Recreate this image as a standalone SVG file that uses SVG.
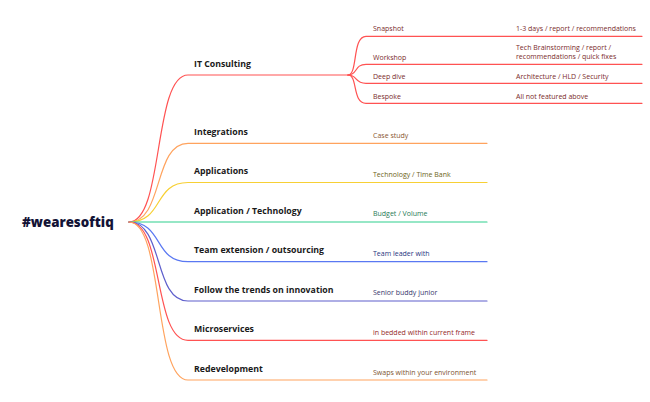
<svg xmlns="http://www.w3.org/2000/svg" width="650" height="402" viewBox="0 0 650 402">
<style>
  .c { fill: none; stroke-width: 1.2; stroke-linecap: round; }
  .t { font-family: "Open Sans", "Liberation Sans", sans-serif; font-weight: 700; font-size: 8.75px; fill: #1a1a1a; }
  .s { font-family: "Open Sans", "Liberation Sans", sans-serif; font-weight: 400; font-size: 7px; }
  .root { font-family: "Open Sans", "Liberation Sans", sans-serif; font-weight: 800; font-size: 13.3px; fill: #131336; }
  .red { stroke: #ff5252; }
  .org { stroke: #ffa35e; }
  .yel { stroke: #f7d035; }
  .grn { stroke: #2ecf8e; }
  .blu { stroke: #5a78f2; }
  .pur { stroke: #5e5fcc; }
</style>
<g id="connectors">
  <path class="c red" d="M129,222 C164,222 153,75 188,75 L348,75"/>
  <path class="c org" d="M129,222 C164,222 153,143.3 188,143.3 L487,143.3"/>
  <path class="c yel" d="M129,222 C164,222 153,182.5 188,182.5 L487,182.5"/>
  <path class="c grn" d="M129,222 L487,222"/>
  <path class="c blu" d="M129,222 C164,222 153,261.7 188,261.7 L487,261.7"/>
  <path class="c pur" d="M129,222 C164,222 153,301 188,301 L487,301"/>
  <path class="c red" d="M129,222 C164,222 153,340.4 188,340.4 L487,340.4"/>
  <path class="c org" d="M129,222 C164,222 153,380 188,380 L487,380"/>
  <path class="c red" d="M348,75 C358,75 352,36.3 366,36.3 L642,36.3"/>
  <path class="c red" d="M348,75 C358,75 354,64.3 366,64.3 L642,64.3"/>
  <path class="c red" d="M348,75 C358,75 354,83.3 366,83.3 L642,83.3"/>
  <path class="c red" d="M348,75 C358,75 352,103.3 366,103.3 L642,103.3"/>
</g>
<g id="root"><text class="root" x="22" y="227">#wearesoftiq</text></g>
<g id="n-it"><text class="t" x="194" y="67">IT Consulting</text></g>
<g id="n-it-snapshot"><text class="s" x="373" y="31" fill="#7a2b2b">Snapshot</text><text class="s" x="516" y="31" fill="#7a2b2b">1-3 days / report / recommendations</text></g>
<g id="n-it-workshop"><text class="s" x="373" y="59.5" fill="#7a2b2b">Workshop</text><text class="s" x="516" y="50" fill="#7a2b2b">Tech Brainstorming / report /</text><text class="s" x="516" y="59" fill="#7a2b2b">recommendations / quick fixes</text></g>
<g id="n-it-deep"><text class="s" x="373" y="78.5" fill="#7a2b2b">Deep dive</text><text class="s" x="516" y="78.5" fill="#7a2b2b">Architecture / HLD / Security</text></g>
<g id="n-it-bespoke"><text class="s" x="373" y="98.5" fill="#7a2b2b">Bespoke</text><text class="s" x="516" y="98.5" fill="#7a2b2b">All not featured above</text></g>
<g id="n-integrations"><text class="t" x="194" y="134.5">Integrations</text><text class="s" x="373" y="137.5" fill="#8a5530">Case study</text></g>
<g id="n-applications"><text class="t" x="194" y="174">Applications</text><text class="s" x="373" y="177" fill="#6e6420">Technology  / Time Bank</text></g>
<g id="n-apptech"><text class="t" x="194" y="213.5">Application / Technology</text><text class="s" x="373" y="216.3" fill="#1f7a55">Budget / Volume</text></g>
<g id="n-team"><text class="t" x="194" y="253">Team extension / outsourcing</text><text class="s" x="373" y="256" fill="#27357f">Team leader with</text></g>
<g id="n-trends"><text class="t" x="194" y="292.5">Follow the trends on innovation</text><text class="s" x="373" y="295.3" fill="#38386e">Senior buddy junior</text></g>
<g id="n-micro"><text class="t" x="194" y="332">Microservices</text><text class="s" x="373" y="334.7" fill="#952a2a">in bedded within current frame</text></g>
<g id="n-redev"><text class="t" x="194" y="371.5">Redevelopment</text><text class="s" x="373" y="374.5" fill="#7e5430">Swaps within your environment</text></g>
</svg>
